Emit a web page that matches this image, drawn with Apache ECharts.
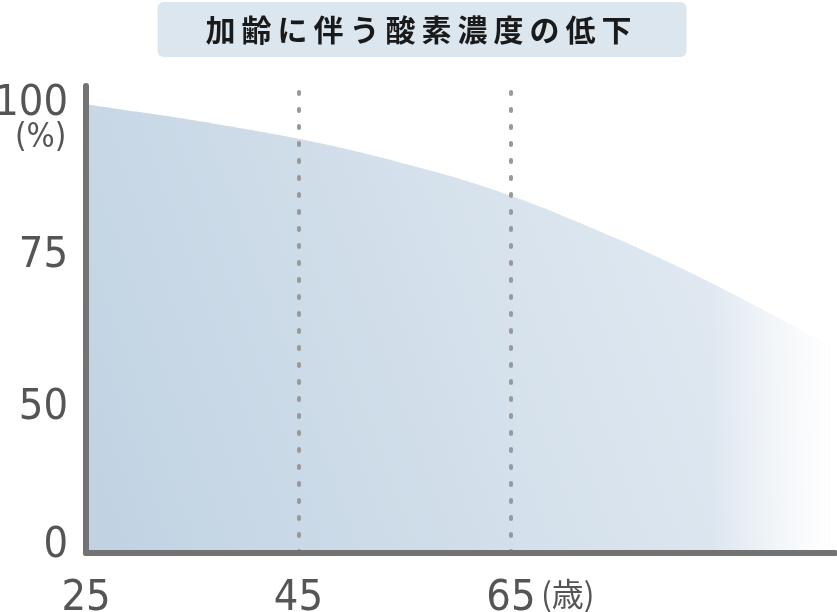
<!DOCTYPE html>
<html>
<head>
<meta charset="utf-8">
<script src="https://cdn.jsdelivr.net/npm/echarts@6/dist/echarts.min.js"></script>
<style>
  html, body { margin: 0; padding: 0; background: #fff; }
  #chart { width: 837px; height: 612px; }
</style>
</head>
<body>
<div id="chart"></div>
<script>
// values
const ages = [25, 30, 35, 40, 45, 50, 55, 60, 65, 70, 75, 80, 85, 90, 95]
const oxygen = [100, 98.7, 97.4, 95.9, 94.3, 92.4, 90.2, 87.8, 84.9, 81.5, 77.8, 73.8, 69.5, 64.9, 60.0]
const xTicks = [25, 45, 65]
const yTicks = [0, 50, 75, 100]
const markAges = [45, 65]

const labelFont = '"Liberation Sans Narrow", "DejaVu Sans Condensed", sans-serif'
const axisGrey = '#737373'

const points = ages.map((a, i) => [a, oxygen[i]])

const chart = echarts.init(document.getElementById('chart'), null, { renderer: 'canvas' })

chart.setOption({
  animation: false,
  title: {
    text: '加\u2009齢\u2009に\u2009伴\u2009う\u2009酸\u2009素\u2009濃\u2009度\u2009の\u2009低\u2009下',
    left: 'center',
    top: 2,
    padding: [11, 55, 11, 48],
    backgroundColor: '#dbe6ef',
    borderRadius: 6,
    textStyle: {
      fontFamily: '"Noto Sans CJK JP", sans-serif',
      fontSize: 30,
      fontWeight: 'bold',
      lineHeight: 33,
      color: '#1a1a1a',
    },
  },
  grid: { left: 86, right: 2, top: 86, bottom: 59, outerBoundsMode: 'none' },
  xAxis: {
    type: 'value',
    min: 25,
    max: 95.5,
    z: 5,
    axisLine: { lineStyle: { color: axisGrey, width: 6, cap: 'round' } },
    axisTick: { show: false },
    splitLine: { show: false },
    axisLabel: {
      customValues: xTicks,
      margin: 24,
      fontFamily: labelFont,
      fontSize: 43,
      color: '#555',
    },
  },
  yAxis: [
    {
      type: 'value',
      min: 0,
      max: 103,
      z: 5,
      breaks: [{ start: 0, end: 50, gap: 24 }],
      breakArea: { show: false, itemStyle: { opacity: 0 } },
      axisLine: { show: false },
      axisTick: { show: false },
      splitLine: { show: false },
      axisLabel: {
        customValues: yTicks,
        margin: 18,
        fontFamily: labelFont,
        fontSize: 43,
        color: '#555',
        formatter: v => (v === 0 ? '{z|0}' : String(v)),
        rich: {
          z: { fontFamily: labelFont, fontSize: 43, color: '#555', padding: [0, 0, 15, 0] },
        },
      },
    },
    {
      // plain axis only used to draw the unbroken vertical axis line
      type: 'value',
      position: 'left',
      min: 0,
      max: 103,
      z: 5,
      axisLine: { show: true, lineStyle: { color: axisGrey, width: 6, cap: 'round' } },
      axisTick: { show: false },
      axisLabel: { show: false },
      splitLine: { show: false },
    },
  ],
  graphic: [
    {
      type: 'text',
      left: 15,
      top: 122,
      style: { text: '(%)', font: '33px ' + labelFont, fill: '#555' },
    },
    {
      type: 'text',
      left: 541,
      top: 578,
      style: { text: '(歳)', font: '32px "Liberation Sans Narrow", "Noto Sans CJK JP", sans-serif', fill: '#555' },
    },
  ],
  series: [
    {
      type: 'line',
      yAxisIndex: 0,
      data: points,
      smooth: 0.4,
      symbol: 'none',
      silent: true,
      lineStyle: { width: 0 },
      areaStyle: {
        origin: 'start',
        opacity: 1,
        color: new echarts.graphic.LinearGradient(0, 0.8, 1, 0.2, [
          { offset: 0, color: '#c1d3e3' },
          { offset: 0.5, color: '#d4e0eb' },
          { offset: 1, color: '#e6edf4' },
        ]),
      },
      markLine: {
        silent: true,
        symbol: 'none',
        label: { show: false },
        lineStyle: { color: '#999', width: 4, type: [2, 15], cap: 'round' },
        data: markAges.map(a => ({ xAxis: a })),
      },
    },
    {
      // white fade towards the right end
      type: 'line',
      yAxisIndex: 0,
      data: points,
      smooth: 0.4,
      symbol: 'none',
      silent: true,
      lineStyle: { width: 0 },
      areaStyle: {
        origin: 'start',
        opacity: 1,
        color: new echarts.graphic.LinearGradient(0, 0, 1, 0, [
          { offset: 0, color: 'rgba(255,255,255,0)' },
          { offset: 0.84, color: 'rgba(255,255,255,0)' },
          { offset: 0.93, color: 'rgba(255,255,255,0.6)' },
          { offset: 1, color: 'rgba(255,255,255,1)' },
        ]),
      },
    },
  ],
})
</script>
</body>
</html>
